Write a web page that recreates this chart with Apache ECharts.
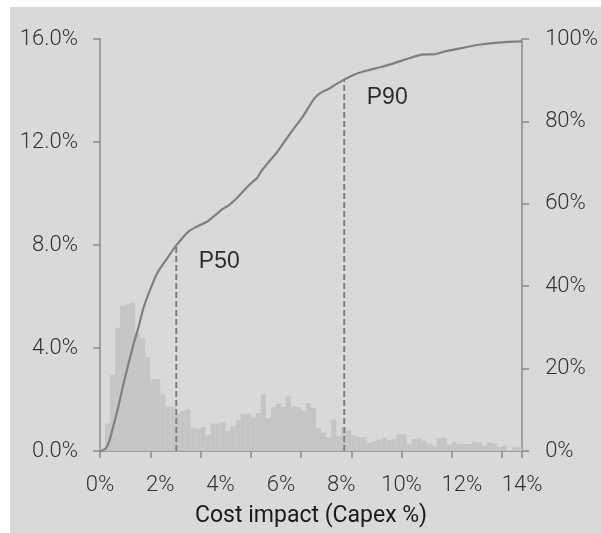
<!DOCTYPE html>
<html>
<head>
<meta charset="utf-8">
<script src="https://cdn.jsdelivr.net/npm/echarts@6/dist/echarts.min.js"></script>
<style>
  html, body { margin: 0; padding: 0; background: #ffffff; }
  #frame { position: absolute; left: 10px; top: 7px; width: 591px; height: 526px; background: #d9d9d9; }
  #chart { position: absolute; left: 0; top: 0; width: 601px; height: 533px; }
</style>
</head>
<body>
<div id="frame"></div>
<div id="chart"></div>
<script>
// Histogram of simulated cost impact: 84 bins spanning 0–14 % of capex (frequency, %)
const binFrequency = [
  0.10, 1.07, 2.95, 4.78, 5.63, 5.70, 5.76, 4.59, 4.40, 3.64,
  2.79, 2.79, 2.20, 1.72, 1.72, 1.45, 1.55, 1.62, 0.90, 0.85,
  0.93, 0.62, 1.07, 1.07, 1.12, 0.78, 0.97, 1.21, 1.44, 1.44,
  1.30, 1.47, 2.21, 1.28, 1.70, 1.83, 1.72, 2.12, 1.73, 1.70,
  1.55, 1.86, 1.67, 0.90, 0.72, 0.55, 1.22, 0.57, 0.92, 0.82,
  0.60, 0.54, 0.54, 0.31, 0.37, 0.45, 0.52, 0.42, 0.46, 0.65,
  0.65, 0.29, 0.46, 0.48, 0.39, 0.29, 0.20, 0.50, 0.52, 0.24,
  0.35, 0.27, 0.27, 0.27, 0.37, 0.33, 0.20, 0.33, 0.29, 0.16,
  0.20, 0.04, 0.14, 0.15
];
const binNames = binFrequency.map((_, i) => 'b' + i);

// Cumulative distribution: cost impact (%) and cumulative probability (%)
const cdfCost = [
  0.00, 0.18, 0.30, 0.43, 0.60, 0.77, 0.93, 1.10, 1.27, 1.43, 1.58,
  1.89, 2.22, 2.53, 2.94, 3.17, 3.56, 4.06, 4.28, 4.50, 4.72,
  4.94, 5.22, 5.33, 5.50, 5.89, 6.28, 6.72, 7.11, 7.33, 7.56,
  7.78, 8.11, 8.44, 8.89, 9.33, 9.78, 10.11, 10.67, 11.11, 11.44,
  12.00, 12.56, 13.33, 14.00
];
const cdfProb = [
  0.0, 0.5, 2.2, 5.7, 10.5, 16.0, 20.8, 25.6, 29.9, 34.4, 37.6,
  43.1, 46.7, 49.9, 53.3, 54.3, 55.7, 58.7, 59.7, 61.1, 62.8,
  64.5, 66.3, 67.7, 69.3, 72.7, 76.8, 81.1, 85.6, 87.0, 87.8,
  88.8, 90.2, 91.4, 92.4, 93.2, 94.2, 95.0, 96.2, 96.3, 97.0,
  97.8, 98.6, 99.2, 99.4
];

// Percentile markers
const percentileNames = ['P50', 'P90'];
const percentileCost = [2.53, 8.10];
const percentileProb = [50, 90];

// Axis ticks
const costTicks = { min: 0, max: 14, interval: 2 };
const freqTicks = { min: 0, max: 16, interval: 4 };
const probTicks = { min: 0, max: 100, interval: 20 };

const axisGrey = '#8a8a8a';
const lineGrey = '#808080';
const tickFont = { fontFamily: 'Roboto', fontSize: 22, fontWeight: 300, color: '#333333' };

const chart = echarts.init(document.getElementById('chart'), null, { renderer: 'canvas' });

const percentileSeries = percentileNames.map((name, i) => ({
  type: 'line',
  xAxisIndex: 1,
  yAxisIndex: 1,
  symbol: 'none',
  silent: true,
  z: 4,
  lineStyle: { color: lineGrey, width: 2, type: [6, 3] },
  data: [[percentileCost[i], 0], [percentileCost[i], percentileProb[i]]]
}));

const percentileLabels = {
  type: 'scatter',
  xAxisIndex: 1,
  yAxisIndex: 1,
  symbolSize: 0,
  silent: true,
  z: 6,
  label: {
    show: true,
    formatter: p => p.data.name,
    fontFamily: 'Liberation Sans',
    fontSize: 23,
    color: '#000000',
    position: 'inside',
    offset: [43, 17]
  },
  data: percentileNames.map((n, i) => ({ name: n, value: [percentileCost[i], percentileProb[i]] }))
};

chart.setOption({
  backgroundColor: 'transparent',
  animation: false,
  grid: { left: 100, right: 78, top: 39, bottom: 76 },
  xAxis: [
    {
      type: 'category',
      data: binNames,
      boundaryGap: true,
      position: 'bottom',
      axisLine: { show: true, lineStyle: { color: axisGrey, width: 1.5 } },
      axisTick: { show: true, interval: 9, length: 7, lineStyle: { color: axisGrey, width: 1.5 } },
      axisLabel: { show: false },
      splitLine: { show: false }
    },
    {
      type: 'value',
      position: 'bottom',
      min: costTicks.min,
      max: costTicks.max,
      interval: costTicks.interval,
      axisLine: { show: false },
      axisTick: { show: false },
      splitLine: { show: false },
      axisLabel: Object.assign({ margin: 23, formatter: v => v + '%' }, tickFont),
      name: 'Cost impact (Capex %)',
      nameLocation: 'middle',
      nameGap: 54,
      nameTextStyle: { fontFamily: 'Roboto', fontSize: 23, color: '#1a1a1a' }
    }
  ],
  yAxis: [
    {
      type: 'value',
      position: 'left',
      min: freqTicks.min,
      max: freqTicks.max,
      interval: freqTicks.interval,
      axisLine: { show: true, lineStyle: { color: axisGrey, width: 1.5 } },
      axisTick: { show: true, length: 7, lineStyle: { color: axisGrey, width: 1.5 } },
      splitLine: { show: false },
      axisLabel: Object.assign({ margin: 22, formatter: v => v.toFixed(1) + '%' }, tickFont)
    },
    {
      type: 'value',
      position: 'right',
      min: probTicks.min,
      max: probTicks.max,
      interval: probTicks.interval,
      axisLine: { show: true, lineStyle: { color: axisGrey, width: 1.5 } },
      axisTick: { show: true, length: 7, lineStyle: { color: axisGrey, width: 1.5 } },
      splitLine: { show: false },
      axisLabel: Object.assign({ margin: 23, formatter: v => v + '%' }, tickFont)
    }
  ],
  series: [
    {
      type: 'bar',
      xAxisIndex: 0,
      yAxisIndex: 0,
      barCategoryGap: '0%',
      silent: true,
      z: 2,
      itemStyle: { color: '#c5c5c5', borderWidth: 0 },
      data: binFrequency
    },
    {
      type: 'line',
      xAxisIndex: 1,
      yAxisIndex: 1,
      symbol: 'none',
      smooth: 0.2,
      silent: true,
      z: 5,
      lineStyle: { color: lineGrey, width: 2.2 },
      data: cdfCost.map((c, i) => [c, cdfProb[i]])
    },
    ...percentileSeries,
    percentileLabels
  ]
});
</script>
</body>
</html>
